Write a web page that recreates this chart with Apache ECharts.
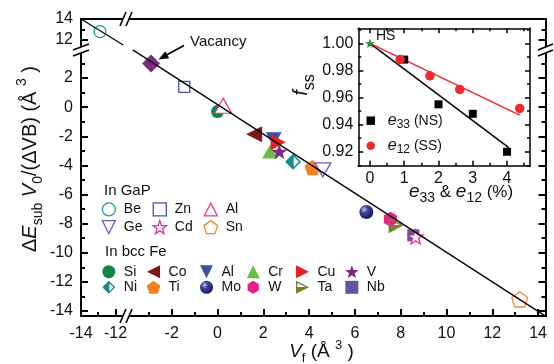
<!DOCTYPE html>
<html><head><meta charset="utf-8">
<script src="https://cdn.jsdelivr.net/npm/echarts@6/dist/echarts.min.js"></script>
<style>html,body{margin:0;padding:0;background:#fff}#c{width:554px;height:364px}</style>
</head><body><div id="c"></div>
<script>
// ---------------- data ----------------
const gapNames = ['Be', 'Zn', 'Al', 'Ge', 'Cd', 'Sn'];
const gapX = [-12.9, -1.45, 0.25, 4.6, 8.65, 13.2];
const gapY = [12.8, 1.4, 0.1, -4.3, -8.9, -13.2];
const feNames = ['Si', 'Co', 'Al', 'Cr', 'Cu', 'V', 'Ni', 'Ti', 'Mo', 'W', 'Ta', 'Nb'];
const feX = [0.0, 1.6, 2.45, 2.3, 2.65, 2.7, 3.3, 4.15, 6.5, 7.55, 7.8, 8.55];
const feY = [-0.3, -1.85, -2.2, -3.05, -2.4, -3.05, -3.75, -4.15, -7.2, -7.7, -8.1, -8.8];
const vacancyX = [-2.9];
const vacancyY = [3.0];
const fitUpperX = [-14, -11.55];
const fitUpperY = [14, 11.52];
const fitLowerX = [-3.7, 14.32];
const fitLowerY = [3.94, -14.35];
const xTicksLeft = [-14, -12];
const xMinorLeft = [-13];
const xTicksMain = [-2, 0, 2, 4, 6, 8, 10, 12, 14];
const xMinorMain = [-3, -1, 1, 3, 5, 7, 9, 11, 13];
const yTicksTop = [12, 14];
const yMinorTop = [13];
const yTicksMain = [-14, -12, -10, -8, -6, -4, -2, 0, 2];
const yMinorMain = [-13, -11, -9, -7, -5, -3, -1, 1, 3];
// inset
const strainE33 = [1, 2, 3, 4];
const fssE33 = [0.988, 0.955, 0.948, 0.920];
const strainE12 = [0.88, 1.75, 2.62, 4.37];
const fssE12 = [0.988, 0.976, 0.966, 0.952];
const hsX = [0];
const hsY = [1.0];
const fitE33X = [0, 4.05];
const fitE33Y = [1.0, 0.923];
const fitE12X = [0, 4.37];
const fitE12Y = [1.0, 0.947];
const insetXTicks = [0, 1, 2, 3, 4];
const insetXMinor = [0.5, 1.5, 2.5, 3.5, 4.5];
const insetYTicks = [0.92, 0.94, 0.96, 0.98, 1.00];
const insetYMinor = [0.91, 0.93, 0.95, 0.97, 0.99, 1.01];

// ---------------- layout / style ----------------
const FONT = '"Liberation Sans", Arial, Helvetica, sans-serif';
const xLeftMin = -14, xLeftMax = -11.333, xMainMin = -3.952, xMainMax = 14.323;
const yTopMin = 11.048, yTopMax = 14, yMainMin = -14.341, yMainMax = 3.929;
const inXMin = -0.341, inXMax = 4.67, inYMin = 0.9097, inYMax = 1.0111;

const SQ = 'path://M0,0L10,0L10,10L0,10Z';
const TRI_UP = 'path://M5,0L10,10L0,10Z';
const TRI_DN = 'path://M0,0L10,0L5,10Z';
const TRI_L = 'path://M0,5L10,0L10,10Z';
const TRI_R = 'path://M10,5L0,0L0,10Z';
const STAR = 'path://M10,0L12.35,6.76L19.51,6.91L13.8,11.24L15.88,18.09L10,14L4.12,18.09L6.2,11.24L0.49,6.91L7.65,6.76Z';
const PENT = 'path://M10,0L19.51,6.91L15.88,18.09L4.12,18.09L0.49,6.91Z';
const HEX = 'path://M10,0L18.66,5L18.66,15L10,20L1.34,15L1.34,5Z';
const NI = 'path://M10,0L0,10L10,20Z M10,0L20,10L10,20Z M10.8,3.63L10.8,16.37L17.17,10Z';
const TA = 'path://M0,10L20,10L0,20Z M0,0L20,10L0,10Z M2,3.24L2,9.7L14.93,9.7Z';
const MO = {type: 'radial', x: 0.35, y: 0.32, r: 0.75, colorStops: [
  {offset: 0, color: '#c4c7ee'}, {offset: 0.35, color: '#3c419c'}, {offset: 1, color: '#15175a'}]};

const STY = {
  'GaP:Be': {sym: 'circle', size: 12, open: true, color: '#179b9b'},
  'GaP:Zn': {sym: SQ, size: 11, open: true, color: '#4b4fae'},
  'GaP:Al': {sym: TRI_UP, size: [17, 15], open: true, color: '#ec3a8c'},
  'GaP:Ge': {sym: TRI_DN, size: [16, 14], open: true, color: '#7456bd'},
  'GaP:Cd': {sym: STAR, size: 15, open: true, color: '#ee2d8e'},
  'GaP:Sn': {sym: PENT, size: 16, open: true, color: '#f2893a'},
  'Fe:Si': {sym: 'circle', size: 13, color: '#118447'},
  'Fe:Co': {sym: TRI_L, size: 16, color: '#7d1518'},
  'Fe:Al': {sym: TRI_DN, size: [16, 14], color: '#3852a4'},
  'Fe:Cr': {sym: TRI_UP, size: [16, 14], color: '#6abd45'},
  'Fe:Cu': {sym: TRI_R, size: [15, 16], color: '#ed1c24'},
  'Fe:V': {sym: STAR, size: 16, color: '#7b2a83'},
  'Fe:Ni': {sym: NI, size: 16, color: '#138b8b'},
  'Fe:Ti': {sym: PENT, size: 16, color: '#f5821f'},
  'Fe:Mo': {sym: 'circle', size: 14, color: MO},
  'Fe:W': {sym: HEX, size: 15, color: '#e91e8c'},
  'Fe:Ta': {sym: TA, size: [15, 16], color: '#7f7f2a'},
  'Fe:Nb': {sym: SQ, size: 12, color: '#6952a2'}
};
function itemStyleFor(k) {
  const s = STY[k];
  return s.open ? {color: '#fff', borderColor: s.color, borderWidth: 1.3, opacity: 1}
                : {color: s.color, borderWidth: 0, opacity: 1};
}

function mkAxis(grid, pos, min, max, o) {
  const a = {
    type: 'value', gridIndex: grid, position: pos, min: min, max: max,
    splitLine: {show: false}, splitArea: {show: false},
    axisLine: {show: !!o.line, onZero: false, lineStyle: {color: '#000', width: o.lw || 2, cap: 'square'}},
    axisTick: {show: !!o.ticks, inside: true, length: o.len || 7, customValues: o.ticks || [],
               lineStyle: {color: '#000', width: o.tw || 2}},
    axisLabel: {show: !!o.labels, customValues: o.labels || [], margin: o.margin || 8,
                color: '#111', fontSize: 16, fontFamily: FONT},
    z: 10
  };
  if (o.fmt) a.axisLabel.formatter = o.fmt;
  return a;
}
const f2 = v => v.toFixed(2);
const xAxis = [
  mkAxis(0, 'top', xLeftMin, xLeftMax, {line: true}),
  mkAxis(1, 'top', xMainMin, xMainMax, {line: true}),
  mkAxis(2, 'bottom', xLeftMin, xLeftMax, {line: true, ticks: xTicksLeft, labels: xTicksLeft, len: 7, margin: 10}),
  mkAxis(2, 'bottom', xLeftMin, xLeftMax, {ticks: xMinorLeft, len: 4}),
  mkAxis(3, 'bottom', xMainMin, xMainMax, {line: true, ticks: xTicksMain, labels: xTicksMain, len: 7, margin: 10}),
  mkAxis(3, 'bottom', xMainMin, xMainMax, {ticks: xMinorMain, len: 4}),
  mkAxis(4, 'bottom', inXMin, inXMax, {line: true, lw: 1.5, tw: 1.5, ticks: insetXTicks, labels: insetXTicks, len: 5, margin: 5}),
  mkAxis(4, 'bottom', inXMin, inXMax, {tw: 1.5, ticks: insetXMinor, len: 3}),
  mkAxis(4, 'top', inXMin, inXMax, {line: true, lw: 1.5, tw: 1.5, ticks: insetXTicks, len: 5}),
  mkAxis(4, 'top', inXMin, inXMax, {tw: 1.5, ticks: insetXMinor, len: 3})
];
const yAxis = [
  mkAxis(0, 'left', yTopMin, yTopMax, {line: true, ticks: yTicksTop, labels: yTicksTop, len: 7, margin: 8}),
  mkAxis(0, 'left', yTopMin, yTopMax, {ticks: yMinorTop, len: 4}),
  mkAxis(1, 'right', yTopMin, yTopMax, {line: true, ticks: yTicksTop, len: 7}),
  mkAxis(1, 'right', yTopMin, yTopMax, {ticks: yMinorTop, len: 4}),
  mkAxis(2, 'left', yMainMin, yMainMax, {line: true, ticks: yTicksMain, labels: yTicksMain, len: 7, margin: 8}),
  mkAxis(2, 'left', yMainMin, yMainMax, {ticks: yMinorMain, len: 4}),
  mkAxis(3, 'right', yMainMin, yMainMax, {line: true, ticks: yTicksMain, len: 7}),
  mkAxis(3, 'right', yMainMin, yMainMax, {ticks: yMinorMain, len: 4}),
  mkAxis(4, 'left', inYMin, inYMax, {line: true, lw: 1.5, tw: 1.5, ticks: insetYTicks, labels: insetYTicks, fmt: f2, len: 5, margin: 5}),
  mkAxis(4, 'left', inYMin, inYMax, {tw: 1.5, ticks: insetYMinor, len: 3}),
  mkAxis(4, 'right', inYMin, inYMax, {line: true, lw: 1.5, tw: 1.5, ticks: insetYTicks, len: 5}),
  mkAxis(4, 'right', inYMin, inYMax, {tw: 1.5, ticks: insetYMinor, len: 3})
];
const gridBase = {containLabel: false, outerBoundsMode: 'none', show: false};
const grid = [
  Object.assign({left: 81, top: 19, width: 46, height: 31}, gridBase),
  Object.assign({left: 127, top: 19, width: 418.5, height: 31}, gridBase),
  Object.assign({left: 81, top: 50, width: 46, height: 266}, gridBase),
  Object.assign({left: 127, top: 50, width: 418.5, height: 266}, gridBase),
  {left: 358.3, top: 28.3, width: 171.7, height: 137.4, containLabel: false, outerBoundsMode: 'none',
   show: true, backgroundColor: '#fff', borderWidth: 0}
];

// ---------------- series ----------------
const series = [];
function addPoint(key, x, y) {
  const s = STY[key];
  const top = y > yTopMin;
  series.push({
    type: 'scatter', name: key, xAxisIndex: top ? 0 : 4, yAxisIndex: top ? 0 : 6,
    data: [[x, y]], symbol: s.sym, symbolSize: s.size, symbolKeepAspect: true,
    itemStyle: itemStyleFor(key), z: 2, silent: true
  });
}
feNames.forEach((n, i) => addPoint('Fe:' + n, feX[i], feY[i]));
gapNames.forEach((n, i) => addPoint('GaP:' + n, gapX[i], gapY[i]));
series.push({type: 'scatter', name: 'Vacancy', xAxisIndex: 4, yAxisIndex: 6,
  data: vacancyX.map((x, i) => [x, vacancyY[i]]), symbol: 'diamond', symbolSize: 18,
  itemStyle: {color: '#7b2a7a', opacity: 1}, z: 2, silent: true});
series.push({type: 'line', xAxisIndex: 0, yAxisIndex: 0, data: fitUpperX.map((x, i) => [x, fitUpperY[i]]),
  symbol: 'none', lineStyle: {color: '#000', width: 1.3}, z: 3, silent: true});
series.push({type: 'line', xAxisIndex: 4, yAxisIndex: 6, data: fitLowerX.map((x, i) => [x, fitLowerY[i]]),
  symbol: 'none', lineStyle: {color: '#000', width: 1.3}, z: 3, silent: true});
// inset
series.push({type: 'line', xAxisIndex: 6, yAxisIndex: 8, data: fitE33X.map((x, i) => [x, fitE33Y[i]]),
  symbol: 'none', lineStyle: {color: '#000', width: 1.5}, z: 3, silent: true});
series.push({type: 'line', xAxisIndex: 6, yAxisIndex: 8, data: fitE12X.map((x, i) => [x, fitE12Y[i]]),
  symbol: 'none', lineStyle: {color: '#ee2a2a', width: 1.5}, z: 3, silent: true});
series.push({type: 'scatter', name: 'e33', xAxisIndex: 6, yAxisIndex: 8,
  data: strainE33.map((x, i) => [x, fssE33[i]]), symbol: SQ, symbolSize: 8,
  itemStyle: {color: '#000', opacity: 1}, z: 4, silent: true});
series.push({type: 'scatter', name: 'e12', xAxisIndex: 6, yAxisIndex: 8,
  data: strainE12.map((x, i) => [x, fssE12[i]]), symbol: 'circle', symbolSize: 9.5,
  itemStyle: {color: '#ee2a2a', opacity: 1}, z: 4, silent: true});
series.push({type: 'scatter', name: 'HS', xAxisIndex: 6, yAxisIndex: 8,
  data: hsX.map((x, i) => [x, hsY[i]]), symbol: STAR, symbolSize: 10, symbolKeepAspect: true,
  itemStyle: {color: '#2e8b3e', opacity: 1}, z: 5, silent: true,
  label: {show: true, formatter: 'HS', position: 'right', distance: 1, offset: [0, -7],
          fontSize: 14, color: '#111', fontFamily: FONT}});

// ---------------- legends ----------------
function colLegend(names, left, top, gap) {
  return {
    orient: 'vertical', left: left, top: top, itemGap: gap, itemWidth: 20, itemHeight: 13, padding: 0,
    selectedMode: false, symbolKeepAspect: true,
    data: names.map(n => ({name: n, icon: STY[n].sym, itemStyle: itemStyleFor(n)})),
    formatter: n => n.split(':')[1],
    textStyle: {fontSize: 14, color: '#111', fontFamily: FONT, lineHeight: 14}
  };
}
const legend = [
  colLegend(['GaP:Be', 'GaP:Ge'], 101.7, 202.3, 3.4),
  colLegend(['GaP:Zn', 'GaP:Cd'], 152.3, 202.3, 3.4),
  colLegend(['GaP:Al', 'GaP:Sn'], 203.3, 202.3, 3.4),
  colLegend(['Fe:Si', 'Fe:Ni'], 102.3, 264.7, 1.6),
  colLegend(['Fe:Co', 'Fe:Ti'], 146.7, 264.7, 1.6),
  colLegend(['Fe:Al', 'Fe:Mo'], 200, 264.7, 1.6),
  colLegend(['Fe:Cr', 'Fe:W'], 246.7, 264.7, 1.6),
  colLegend(['Fe:Cu', 'Fe:Ta'], 296, 264.7, 1.6),
  colLegend(['Fe:V', 'Fe:Nb'], 345, 264.7, 1.6),
  {
    orient: 'vertical', left: 366.5, top: 110.7, itemGap: 5, itemWidth: 24, itemHeight: 8.5, padding: 0,
    selectedMode: false, symbolKeepAspect: true,
    data: [{name: 'e33', icon: SQ, itemStyle: {color: '#000', borderWidth: 0}},
           {name: 'e12', icon: 'circle', itemStyle: {color: '#ee2a2a', borderWidth: 0}}],
    formatter: n => n === 'e33' ? '{i|e}{s|33}{n| (NS)}' : '{i|e}{s|12}{n| (SS)}',
    textStyle: {fontSize: 14, color: '#111', fontFamily: FONT, lineHeight: 20,
      rich: {i: {fontSize: 16, fontStyle: 'italic', fontFamily: FONT, lineHeight: 20},
             s: {fontSize: 12, fontFamily: FONT, lineHeight: 12, verticalAlign: 'bottom'},
             n: {fontSize: 14, fontFamily: FONT, lineHeight: 20}}}
  }
];

// ---------------- graphic (text, arrow, axis breaks) ----------------
const graphic = [];
function brk(x1, y1, x2, y2, dx, dy) {
  graphic.push({type: 'polygon', z: 100, silent: true,
    shape: {points: [[x1, y1], [x2, y2], [x2 + dx, y2 + dy], [x1 + dx, y1 + dy]]}, style: {fill: '#fff'}});
  graphic.push({type: 'line', z: 101, silent: true, shape: {x1: x1, y1: y1, x2: x2, y2: y2}, style: {stroke: '#000', lineWidth: 1.6}});
  graphic.push({type: 'line', z: 101, silent: true, shape: {x1: x1 + dx, y1: y1 + dy, x2: x2 + dx, y2: y2 + dy}, style: {stroke: '#000', lineWidth: 1.6}});
}
brk(120, 26, 126, 12, 6, 0);
brk(120, 323, 126, 309, 6, 0);
brk(73, 50, 89, 44, 0, 6);
brk(538, 50, 553, 44, 0, 6);

function rtext(x, y, text, rich, rot, size) {
  graphic.push({type: 'text', x: x, y: y, rotation: rot || 0, z: 50, silent: true,
    style: {text: text, rich: rich, align: 'center', verticalAlign: 'middle', fill: '#111',
            fontSize: size || 16, fontFamily: FONT}});
}
rtext(30, 159, '{n|Δ}{i|E}{s|sub}{n| }{i|V}{s|0}{n|/(ΔVB) (Å }{p|3}{n| )}', {
  n: {fontSize: 20, fontFamily: FONT, lineHeight: 30},
  i: {fontSize: 20, fontFamily: FONT, fontStyle: 'italic', lineHeight: 30},
  s: {fontSize: 14, fontFamily: FONT, lineHeight: 14, verticalAlign: 'bottom'},
  p: {fontSize: 14, fontFamily: FONT, lineHeight: 14, verticalAlign: 'top'}
}, Math.PI / 2, 20);
rtext(321.5, 352, '{i|V}{s|f}{n| (Å }{p|3}{n| )}', {
  n: {fontSize: 19, fontFamily: FONT, lineHeight: 26},
  i: {fontSize: 19, fontFamily: FONT, fontStyle: 'italic', lineHeight: 26},
  s: {fontSize: 13, fontFamily: FONT, lineHeight: 13, verticalAlign: 'bottom'},
  p: {fontSize: 13, fontFamily: FONT, lineHeight: 13, verticalAlign: 'top'}
}, 0, 19);
rtext(461, 192, '{i|e}{s|33}{n| & }{i|e}{s|12}{n| (%)}', {
  n: {fontSize: 17, fontFamily: FONT, lineHeight: 26},
  i: {fontSize: 19, fontFamily: FONT, fontStyle: 'italic', lineHeight: 26},
  s: {fontSize: 14, fontFamily: FONT, lineHeight: 14, verticalAlign: 'bottom'}
}, 0, 17);
rtext(301, 85, '{i|f}{s|ss}', {
  i: {fontSize: 20, fontFamily: FONT, fontStyle: 'italic', lineHeight: 34},
  s: {fontSize: 16, fontFamily: FONT, lineHeight: 12, verticalAlign: 'bottom'}
}, Math.PI / 2, 20);

graphic.push({type: 'text', x: 104, y: 190.7, z: 50, silent: true,
  style: {text: 'In GaP', fontSize: 15, fontFamily: FONT, fill: '#111', verticalAlign: 'middle'}});
graphic.push({type: 'text', x: 105, y: 251.7, z: 50, silent: true,
  style: {text: 'In bcc Fe', fontSize: 15, fontFamily: FONT, fill: '#111', verticalAlign: 'middle'}});
graphic.push({type: 'text', x: 190, y: 42, z: 50, silent: true,
  style: {text: 'Vacancy', fontSize: 15, fontFamily: FONT, fill: '#111', verticalAlign: 'middle'}});
graphic.push({type: 'line', z: 50, silent: true, shape: {x1: 184, y1: 45.5, x2: 167, y2: 54.7},
  style: {stroke: '#000', lineWidth: 1.8}});
graphic.push({type: 'polygon', z: 50, silent: true,
  shape: {points: [[158.5, 59.5], [169.2, 58.2], [165.4, 51.2]]}, style: {fill: '#000'}});

const chart = echarts.init(document.getElementById('c'), null, {renderer: 'canvas', width: 554, height: 364});
chart.setOption({
  animation: false,
  backgroundColor: '#fff',
  grid: grid, xAxis: xAxis, yAxis: yAxis,
  legend: legend, series: series, graphic: graphic
});
</script>
</body></html>
